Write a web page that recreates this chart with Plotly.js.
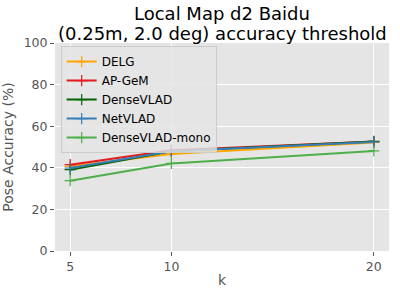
<!DOCTYPE html>
<html><head><meta charset="utf-8">
<script src="https://cdn.plot.ly/plotly-3.0.1.min.js"></script>
<style>body{margin:0;padding:0;}#c{width:400px;height:288px;}</style>
</head><body><div id="c"></div>
<script>
const k = [5, 10, 20];
const names = ["DELG", "AP-GeM", "DenseVLAD", "NetVLAD", "DenseVLAD-mono"];
const DELG = [40.7, 46.6, 52.2];
const APGeM = [41.5, 48.4, 52.6];
const DenseVLAD = [39.1, 47.9, 52.7];
const NetVLAD = [39.9, 47.9, 52.4];
const DenseVLADmono = [33.8, 42.1, 48.1];
const titleLines = ["Local Map d2 Baidu", "(0.25m, 2.0 deg) accuracy threshold"];
const colors = ["#ffa500", "#e41a1c", "#006400", "#377eb8", "#4daf4a"];
const series = [DELG, APGeM, DenseVLAD, NetVLAD, DenseVLADmono];
const font = "DejaVu Sans, sans-serif";
const traces = series.map((s, i) => ({
  x: k, y: s, name: names[i], type: "scatter", mode: "lines+markers",
  line: {color: colors[i], width: 2},
  marker: {symbol: "cross-thin", size: 8, line: {color: colors[i], width: 1.2}, color: colors[i]}
}));
const layout = {
  width: 400, height: 288,
  margin: {l: 55, r: 11, t: 43, b: 37},
  paper_bgcolor: "white", plot_bgcolor: "#e5e5e5",
  font: {family: font, color: "#555"},
  annotations: titleLines.map((t, i) => ({text: t, xref: "paper", yref: "paper", x: 0.5, y: [1.144, 1.048][i], xanchor: "center", yanchor: "middle", showarrow: false, font: {size: 18, color: "black", family: font}})),
  xaxis: {range: [4.25, 20.75], tickvals: k, ticktext: k.map(String), showgrid: true, gridcolor: "white", gridwidth: 1, zeroline: false,
    ticks: "outside", ticklen: 4, tickcolor: "#555", tickfont: {size: 12.5, color: "#555"},
    title: {text: "k", font: {size: 14, color: "#555"}, standoff: 4}},
  yaxis: {range: [0, 100], tickvals: [0, 20, 40, 60, 80, 100], showgrid: true, gridcolor: "white", gridwidth: 1, zeroline: false,
    ticks: "outside", ticklen: 4, tickcolor: "#555", tickfont: {size: 12.5, color: "#555"},
    title: {text: "Pose Accuracy (%)", font: {size: 14, color: "#555"}, standoff: 8}},
  legend: {x: 0.017, y: 0.985, xanchor: "left", yanchor: "top", bgcolor: "rgba(229,229,229,0.8)", bordercolor: "#cccccc", borderwidth: 1,
    font: {size: 12, color: "black"}, tracegroupgap: 0, itemwidth: 30},
  showlegend: true
};
Plotly.newPlot("c", traces, layout, {displayModeBar: false, staticPlot: true});
</script></body></html>
